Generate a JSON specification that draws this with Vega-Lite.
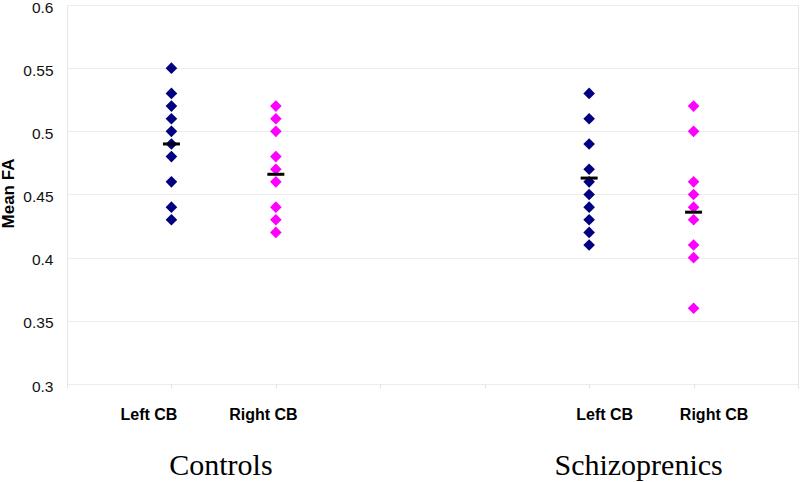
{
  "$schema": "https://vega.github.io/schema/vega-lite/v6.json",
  "width": 731,
  "height": 379,
  "autosize": {"type": "none"},
  "padding": {"left": 67, "top": 5, "right": 2, "bottom": 98},
  "background": "white",
  "config": {"view": {"stroke": "#e6e6e6"}, "font": "Liberation Sans"},
  "datasets": {
    "points": [
      {"group": "Controls", "side": "Left CB", "pos": 1, "fa": 0.55},
      {"group": "Controls", "side": "Left CB", "pos": 1, "fa": 0.53},
      {"group": "Controls", "side": "Left CB", "pos": 1, "fa": 0.52},
      {"group": "Controls", "side": "Left CB", "pos": 1, "fa": 0.51},
      {"group": "Controls", "side": "Left CB", "pos": 1, "fa": 0.50},
      {"group": "Controls", "side": "Left CB", "pos": 1, "fa": 0.49},
      {"group": "Controls", "side": "Left CB", "pos": 1, "fa": 0.48},
      {"group": "Controls", "side": "Left CB", "pos": 1, "fa": 0.46},
      {"group": "Controls", "side": "Left CB", "pos": 1, "fa": 0.44},
      {"group": "Controls", "side": "Left CB", "pos": 1, "fa": 0.43},
      {"group": "Controls", "side": "Right CB", "pos": 2, "fa": 0.52},
      {"group": "Controls", "side": "Right CB", "pos": 2, "fa": 0.51},
      {"group": "Controls", "side": "Right CB", "pos": 2, "fa": 0.50},
      {"group": "Controls", "side": "Right CB", "pos": 2, "fa": 0.48},
      {"group": "Controls", "side": "Right CB", "pos": 2, "fa": 0.47},
      {"group": "Controls", "side": "Right CB", "pos": 2, "fa": 0.46},
      {"group": "Controls", "side": "Right CB", "pos": 2, "fa": 0.44},
      {"group": "Controls", "side": "Right CB", "pos": 2, "fa": 0.43},
      {"group": "Controls", "side": "Right CB", "pos": 2, "fa": 0.42},
      {"group": "Schizoprenics", "side": "Left CB", "pos": 5, "fa": 0.53},
      {"group": "Schizoprenics", "side": "Left CB", "pos": 5, "fa": 0.51},
      {"group": "Schizoprenics", "side": "Left CB", "pos": 5, "fa": 0.49},
      {"group": "Schizoprenics", "side": "Left CB", "pos": 5, "fa": 0.47},
      {"group": "Schizoprenics", "side": "Left CB", "pos": 5, "fa": 0.46},
      {"group": "Schizoprenics", "side": "Left CB", "pos": 5, "fa": 0.45},
      {"group": "Schizoprenics", "side": "Left CB", "pos": 5, "fa": 0.44},
      {"group": "Schizoprenics", "side": "Left CB", "pos": 5, "fa": 0.43},
      {"group": "Schizoprenics", "side": "Left CB", "pos": 5, "fa": 0.42},
      {"group": "Schizoprenics", "side": "Left CB", "pos": 5, "fa": 0.41},
      {"group": "Schizoprenics", "side": "Right CB", "pos": 6, "fa": 0.52},
      {"group": "Schizoprenics", "side": "Right CB", "pos": 6, "fa": 0.50},
      {"group": "Schizoprenics", "side": "Right CB", "pos": 6, "fa": 0.46},
      {"group": "Schizoprenics", "side": "Right CB", "pos": 6, "fa": 0.45},
      {"group": "Schizoprenics", "side": "Right CB", "pos": 6, "fa": 0.44},
      {"group": "Schizoprenics", "side": "Right CB", "pos": 6, "fa": 0.43},
      {"group": "Schizoprenics", "side": "Right CB", "pos": 6, "fa": 0.41},
      {"group": "Schizoprenics", "side": "Right CB", "pos": 6, "fa": 0.40},
      {"group": "Schizoprenics", "side": "Right CB", "pos": 6, "fa": 0.36}
    ],
    "means": [
      {"group": "Controls", "side": "Left CB", "pos": 1, "mean": 0.49},
      {"group": "Controls", "side": "Right CB", "pos": 2, "mean": 0.466},
      {"group": "Schizoprenics", "side": "Left CB", "pos": 5, "mean": 0.463},
      {"group": "Schizoprenics", "side": "Right CB", "pos": 6, "mean": 0.436}
    ]
  },
  "layer": [
    {
      "data": {"name": "points"},
      "mark": {"type": "point", "shape": "diamond", "filled": true, "size": 135, "opacity": 1},
      "encoding": {
        "x": {
          "field": "pos",
          "type": "quantitative",
          "scale": {"domain": [0, 7], "nice": false, "zero": false},
          "axis": {
            "values": [0, 1, 2, 3, 4, 5, 6, 7],
            "title": null,
            "grid": false,
            "domain": false,
            "ticks": true,
            "tickSize": 4,
            "tickColor": "#e3e3e3",
            "labelExpr": "datum.value == 1 || datum.value == 5 ? 'Left CB' : (datum.value == 2 || datum.value == 6 ? 'Right CB' : '')",
            "labelFont": "Liberation Sans",
            "labelFontWeight": "bold",
            "labelFontSize": 16,
            "labelColor": "#000000",
            "labelPadding": 31,
            "labelBaseline": "alphabetic",
            "labelOverlap": false,
            "labelBound": false,
            "labelFlush": false,
            "labelOffset": {
              "condition": [
                {"test": "datum.value == 1", "value": -23},
                {"test": "datum.value == 2", "value": -13},
                {"test": "datum.value == 5", "value": 15}
              ],
              "value": 20
            }
          }
        },
        "y": {
          "field": "fa",
          "type": "quantitative",
          "scale": {"domain": [0.3, 0.6], "nice": false, "zero": false},
          "axis": {
            "title": "Mean FA",
            "values": [0.3, 0.35, 0.4, 0.45, 0.5, 0.55, 0.6],
            "format": "~g",
            "grid": true,
            "gridColor": "#ececec",
            "domainColor": "#e6e6e6",
            "ticks": false,
            "tickSize": 0,
            "labelPadding": 14,
            "labelFont": "Liberation Sans",
            "labelFontSize": 15.5,
            "labelColor": "#111111",
            "labelOffset": 2,
            "titleFont": "Liberation Sans",
            "titleFontSize": 17,
            "titleFontWeight": "bold",
            "titleColor": "#000000",
            "titleX": -54,
            "titleY": 188,
            "titleAngle": 270,
            "titleAlign": "center",
            "titleBaseline": "alphabetic"
          }
        },
        "color": {
          "field": "side",
          "type": "nominal",
          "scale": {"domain": ["Left CB", "Right CB"], "range": ["#000080", "#ff00ff"]},
          "legend": null
        }
      }
    },
    {
      "data": {"name": "means"},
      "mark": {"type": "tick", "orient": "horizontal", "color": "#000000", "size": 17, "thickness": 3, "opacity": 1},
      "encoding": {
        "x": {"field": "pos", "type": "quantitative"},
        "y": {"field": "mean", "type": "quantitative"}
      }
    },
    {
      "data": {"name": "points"},
      "transform": [{"aggregate": [{"op": "mean", "field": "pos", "as": "center"}], "groupby": ["group"]}],
      "mark": {"type": "text", "font": "Liberation Serif", "fontSize": 30, "baseline": "alphabetic", "align": "center", "dy": 91, "color": "#000000"},
      "encoding": {
        "x": {"field": "center", "type": "quantitative"},
        "y": {"datum": 0.3},
        "text": {"field": "group"}
      }
    }
  ]
}
